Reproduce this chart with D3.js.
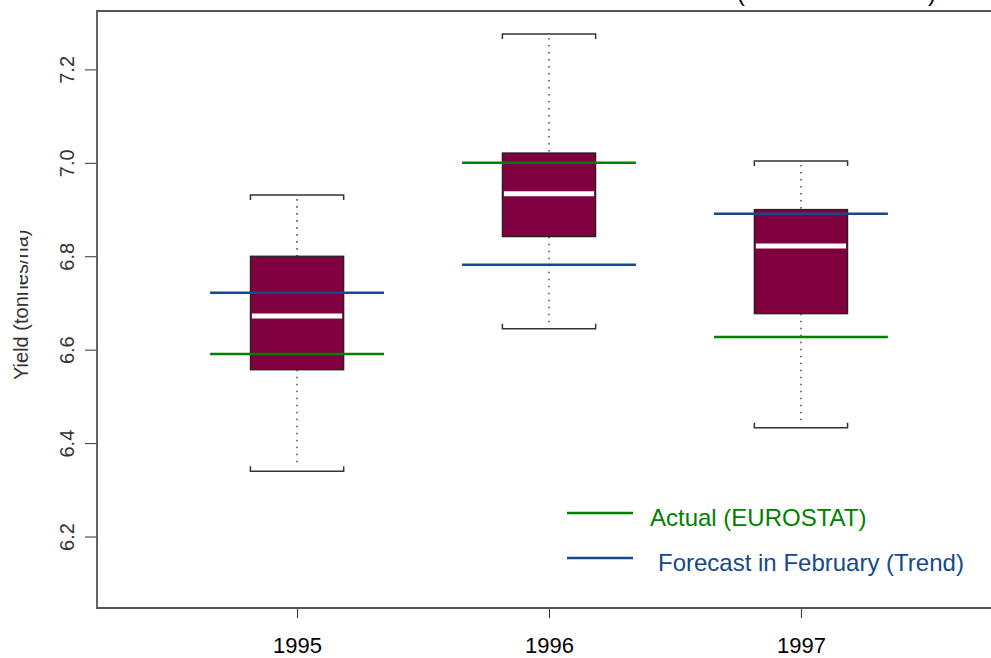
<!DOCTYPE html>
<html>
<head>
<meta charset="utf-8">
<script src="https://cdn.jsdelivr.net/npm/d3@7"></script>
<style>
  body { margin: 0; background: #fff; }
  svg { display: block; font-family: "Liberation Sans", Arial, sans-serif; }
</style>
</head>
<body>
<div id="chart_area"></div>
<script>
// data
const years = ['1995', '1996', '1997'];
const whiskerLow = [6.34, 6.645, 6.433];
const boxLow = [6.557, 6.842, 6.677];
const medians = [6.672, 6.934, 6.822];
const boxHigh = [6.80, 7.021, 6.90];
const whiskerHigh = [6.931, 7.276, 7.004];
const actual = [6.591, 7.0, 6.627];
const forecast = [6.722, 6.782, 6.891];
const yTicks = [6.2, 6.4, 6.6, 6.8, 7.0, 7.2];

const W = 991, H = 658;
const plotLeft = 97, plotTop = 11, plotBottom = 608, plotRight = 1001;

const svg = d3
  .select('#chart_area')
  .append('svg')
  .attr('width', W)
  .attr('height', H);

// scales
const x = d3.scalePoint().domain(years).range([plotLeft, plotRight]).padding(0.794);
const y = d3.scaleLinear().domain([6.047, 7.325]).range([plotBottom, plotTop]);
const boxW = x.step() * 0.37;
const lineW = x.step() * 0.69;

const green = '#008000';
const blue = '#17488a';

const data = years.map((yr, i) => ({
  year: yr,
  lo: whiskerLow[i], q1: boxLow[i], med: medians[i], q3: boxHigh[i], hi: whiskerHigh[i],
  actual: actual[i], forecast: forecast[i]
}));

// title (mostly outside the picture)
svg.append('text').attr('x', 741).attr('y', 1).attr('font-size', 24).attr('text-anchor', 'middle').text('(');
svg.append('text').attr('x', 932).attr('y', 1).attr('font-size', 24).attr('text-anchor', 'middle').text(')');

// boxes
const g = svg.selectAll('g.box').data(data).enter().append('g').attr('class', 'box');

// dotted whiskers
g.append('line')
  .attr('x1', d => x(d.year)).attr('x2', d => x(d.year))
  .attr('y1', d => y(d.hi) + 4).attr('y2', d => y(d.q3))
  .attr('stroke', '#555').attr('stroke-width', 1.6).attr('stroke-dasharray', '1.6,5.4');
g.append('line')
  .attr('x1', d => x(d.year)).attr('x2', d => x(d.year))
  .attr('y1', d => y(d.q1)).attr('y2', d => y(d.lo) - 4)
  .attr('stroke', '#555').attr('stroke-width', 1.6).attr('stroke-dasharray', '1.6,5.4');

// caps as brackets
g.append('path')
  .attr('d', d => {
    const x0 = x(d.year) - boxW / 2, x1 = x(d.year) + boxW / 2, yy = y(d.hi);
    return `M${x0},${yy + 5}V${yy}H${x1}V${yy + 5}`;
  })
  .attr('fill', 'none').attr('stroke', '#333').attr('stroke-width', 1.5);
g.append('path')
  .attr('d', d => {
    const x0 = x(d.year) - boxW / 2, x1 = x(d.year) + boxW / 2, yy = y(d.lo);
    return `M${x0},${yy - 5}V${yy}H${x1}V${yy - 5}`;
  })
  .attr('fill', 'none').attr('stroke', '#333').attr('stroke-width', 1.5);

g.append('rect')
  .attr('x', d => x(d.year) - boxW / 2)
  .attr('width', boxW)
  .attr('y', d => y(d.q3))
  .attr('height', d => y(d.q1) - y(d.q3))
  .attr('fill', '#80003f')
  .attr('stroke', '#222')
  .attr('stroke-width', 1.3);

g.append('line')
  .attr('x1', d => x(d.year) - boxW / 2 + 1.5).attr('x2', d => x(d.year) + boxW / 2 - 1.5)
  .attr('y1', d => y(d.med)).attr('y2', d => y(d.med))
  .attr('stroke', '#fff').attr('stroke-width', 5);

// actual and forecast lines
g.append('line')
  .attr('x1', d => x(d.year) - lineW / 2).attr('x2', d => x(d.year) + lineW / 2)
  .attr('y1', d => y(d.actual)).attr('y2', d => y(d.actual))
  .attr('stroke', green).attr('stroke-width', 2.5);
g.append('line')
  .attr('x1', d => x(d.year) - lineW / 2).attr('x2', d => x(d.year) + lineW / 2)
  .attr('y1', d => y(d.forecast)).attr('y2', d => y(d.forecast))
  .attr('stroke', blue).attr('stroke-width', 2.5);

// axes
const yAxis = svg.append('g')
  .attr('transform', 'translate(' + plotLeft + ',0)')
  .call(d3.axisLeft(y).tickValues(yTicks).tickSize(12).tickSizeOuter(0).tickFormat(d3.format('.1f')));
yAxis.select('.domain').remove();
yAxis.selectAll('.tick line').attr('stroke', '#333');
yAxis.selectAll('.tick text')
  .attr('x', null).attr('dy', null)
  .attr('transform', 'translate(-23,0) rotate(-90)')
  .attr('text-anchor', 'middle')
  .attr('font-size', 20)
  .attr('font-family', null)
  .attr('fill', '#333');

const xAxis = svg.append('g')
  .attr('transform', 'translate(0,' + plotBottom + ')')
  .call(d3.axisBottom(x).tickSize(10).tickPadding(19).tickSizeOuter(0));
xAxis.select('.domain').remove();
xAxis.selectAll('.tick line').attr('stroke', '#333');
xAxis.selectAll('.tick text').attr('font-size', 22).attr('font-family', null).attr('fill', '#000');

// frame
svg.append('path')
  .attr('d', `M${W + 5},${plotTop}H${plotLeft}V${plotBottom}H${W + 5}`)
  .attr('fill', 'none').attr('stroke', '#555').attr('stroke-width', 1.8);

// y label, partly hidden as in the original
svg.append('text')
  .attr('transform', 'translate(28,380) rotate(-90)')
  .attr('font-size', 20)
  .attr('fill', '#333')
  .text('Yield (tonnes/ha)');
svg.append('rect').attr('x', 0).attr('y', 215).attr('width', 20).attr('height', 78).attr('fill', '#fff');

// legend
const legend = [
  { label: 'Actual (EUROSTAT)', color: green, yy: 513, tx: 650 },
  { label: 'Forecast in February (Trend)', color: blue, yy: 558, tx: 658 }
];
const lg = svg.selectAll('g.legend').data(legend).enter().append('g').attr('class', 'legend');
lg.append('line')
  .attr('x1', 567).attr('x2', 633)
  .attr('y1', d => d.yy).attr('y2', d => d.yy)
  .attr('stroke', d => d.color).attr('stroke-width', 2.5);
lg.append('text')
  .attr('x', d => d.tx).attr('y', d => d.yy + 13)
  .attr('font-size', 24)
  .attr('fill', d => d.color)
  .text(d => d.label);
</script>
</body>
</html>
